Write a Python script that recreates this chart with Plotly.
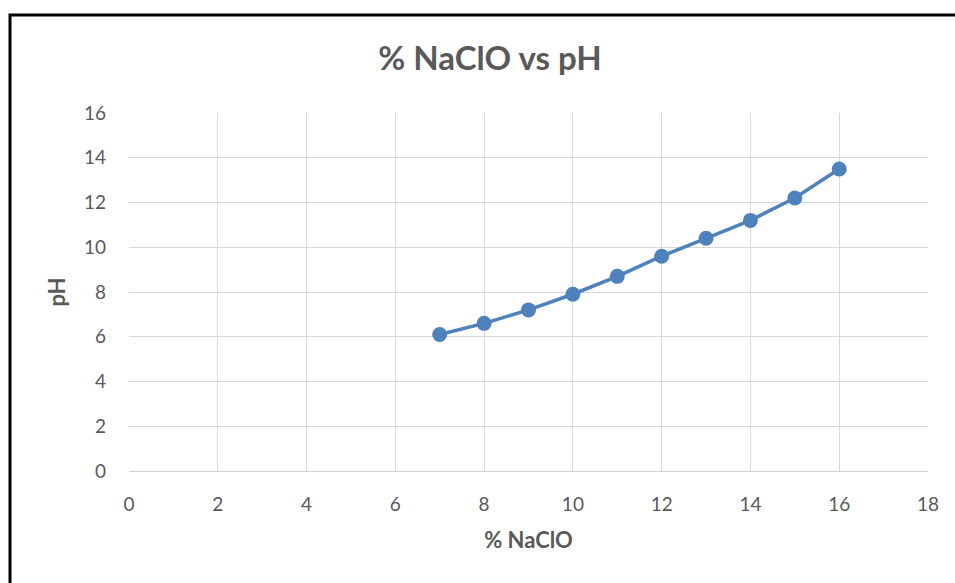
import plotly.graph_objects as go

naclo = [7, 8, 9, 10, 11, 12, 13, 14, 15, 16]
ph = [6.1, 6.6, 7.2, 7.9, 8.7, 9.6, 10.4, 11.2, 12.2, 13.5]
x_ticks = [0, 2, 4, 6, 8, 10, 12, 14, 16, 18]
y_ticks = [0, 2, 4, 6, 8, 10, 12, 14, 16]

FONT = "Lato"
GRAY = "#595959"

fig = go.Figure()
fig.add_trace(go.Scatter(
    x=naclo, y=ph, mode="lines+markers",
    line=dict(color="#4F81BD", width=3.5),
    marker=dict(color="#4F81BD", size=15),
    showlegend=False,
))

W, H = 955, 583
l, r, t, b = 129, 27, 113, 112
pw, ph_ = W - l - r, H - t - b

fig.update_layout(
    width=W, height=H,
    margin=dict(l=l, r=r, t=t, b=b),
    paper_bgcolor="white", plot_bgcolor="white",
    title=dict(text="<b>% NaClO vs pH</b>", x=490 / W, xanchor="center",
               y=1 - 58 / H, yanchor="middle",
               font=dict(family=FONT, size=33, color=GRAY)),
    xaxis=dict(range=[0, 18], tickvals=x_ticks, showgrid=True,
               gridcolor="#d9d9d9", gridwidth=1.3, zeroline=False,
               showline=True, linecolor="#d0d0d0", linewidth=1.3,
               ticks="", ticklabelstandoff=16,
               tickfont=dict(family=FONT, size=19, color=GRAY),
               title=dict(text="<b>% NaClO</b>", standoff=18,
                          font=dict(family=FONT, size=22, color=GRAY))),
    yaxis=dict(range=[0, 16], tickvals=y_ticks, showgrid=True,
               gridcolor="#d9d9d9", gridwidth=1.3, zeroline=False,
               showline=False, ticks="", ticklabelstandoff=22,
               tickfont=dict(family=FONT, size=19, color=GRAY),
               title=dict(text="<b>pH</b>", standoff=12,
                          font=dict(family=FONT, size=22, color=GRAY))),
    shapes=[dict(type="rect", xref="paper", yref="paper",
                 x0=(10 - l) / pw, x1=(W + 20 - l) / pw,
                 y0=(H - b - (H + 20)) / ph_, y1=1 + (t - 15) / ph_,
                 line=dict(color="black", width=3),
                 fillcolor="rgba(0,0,0,0)", layer="above")],
)

fig.write_html("out.html")
